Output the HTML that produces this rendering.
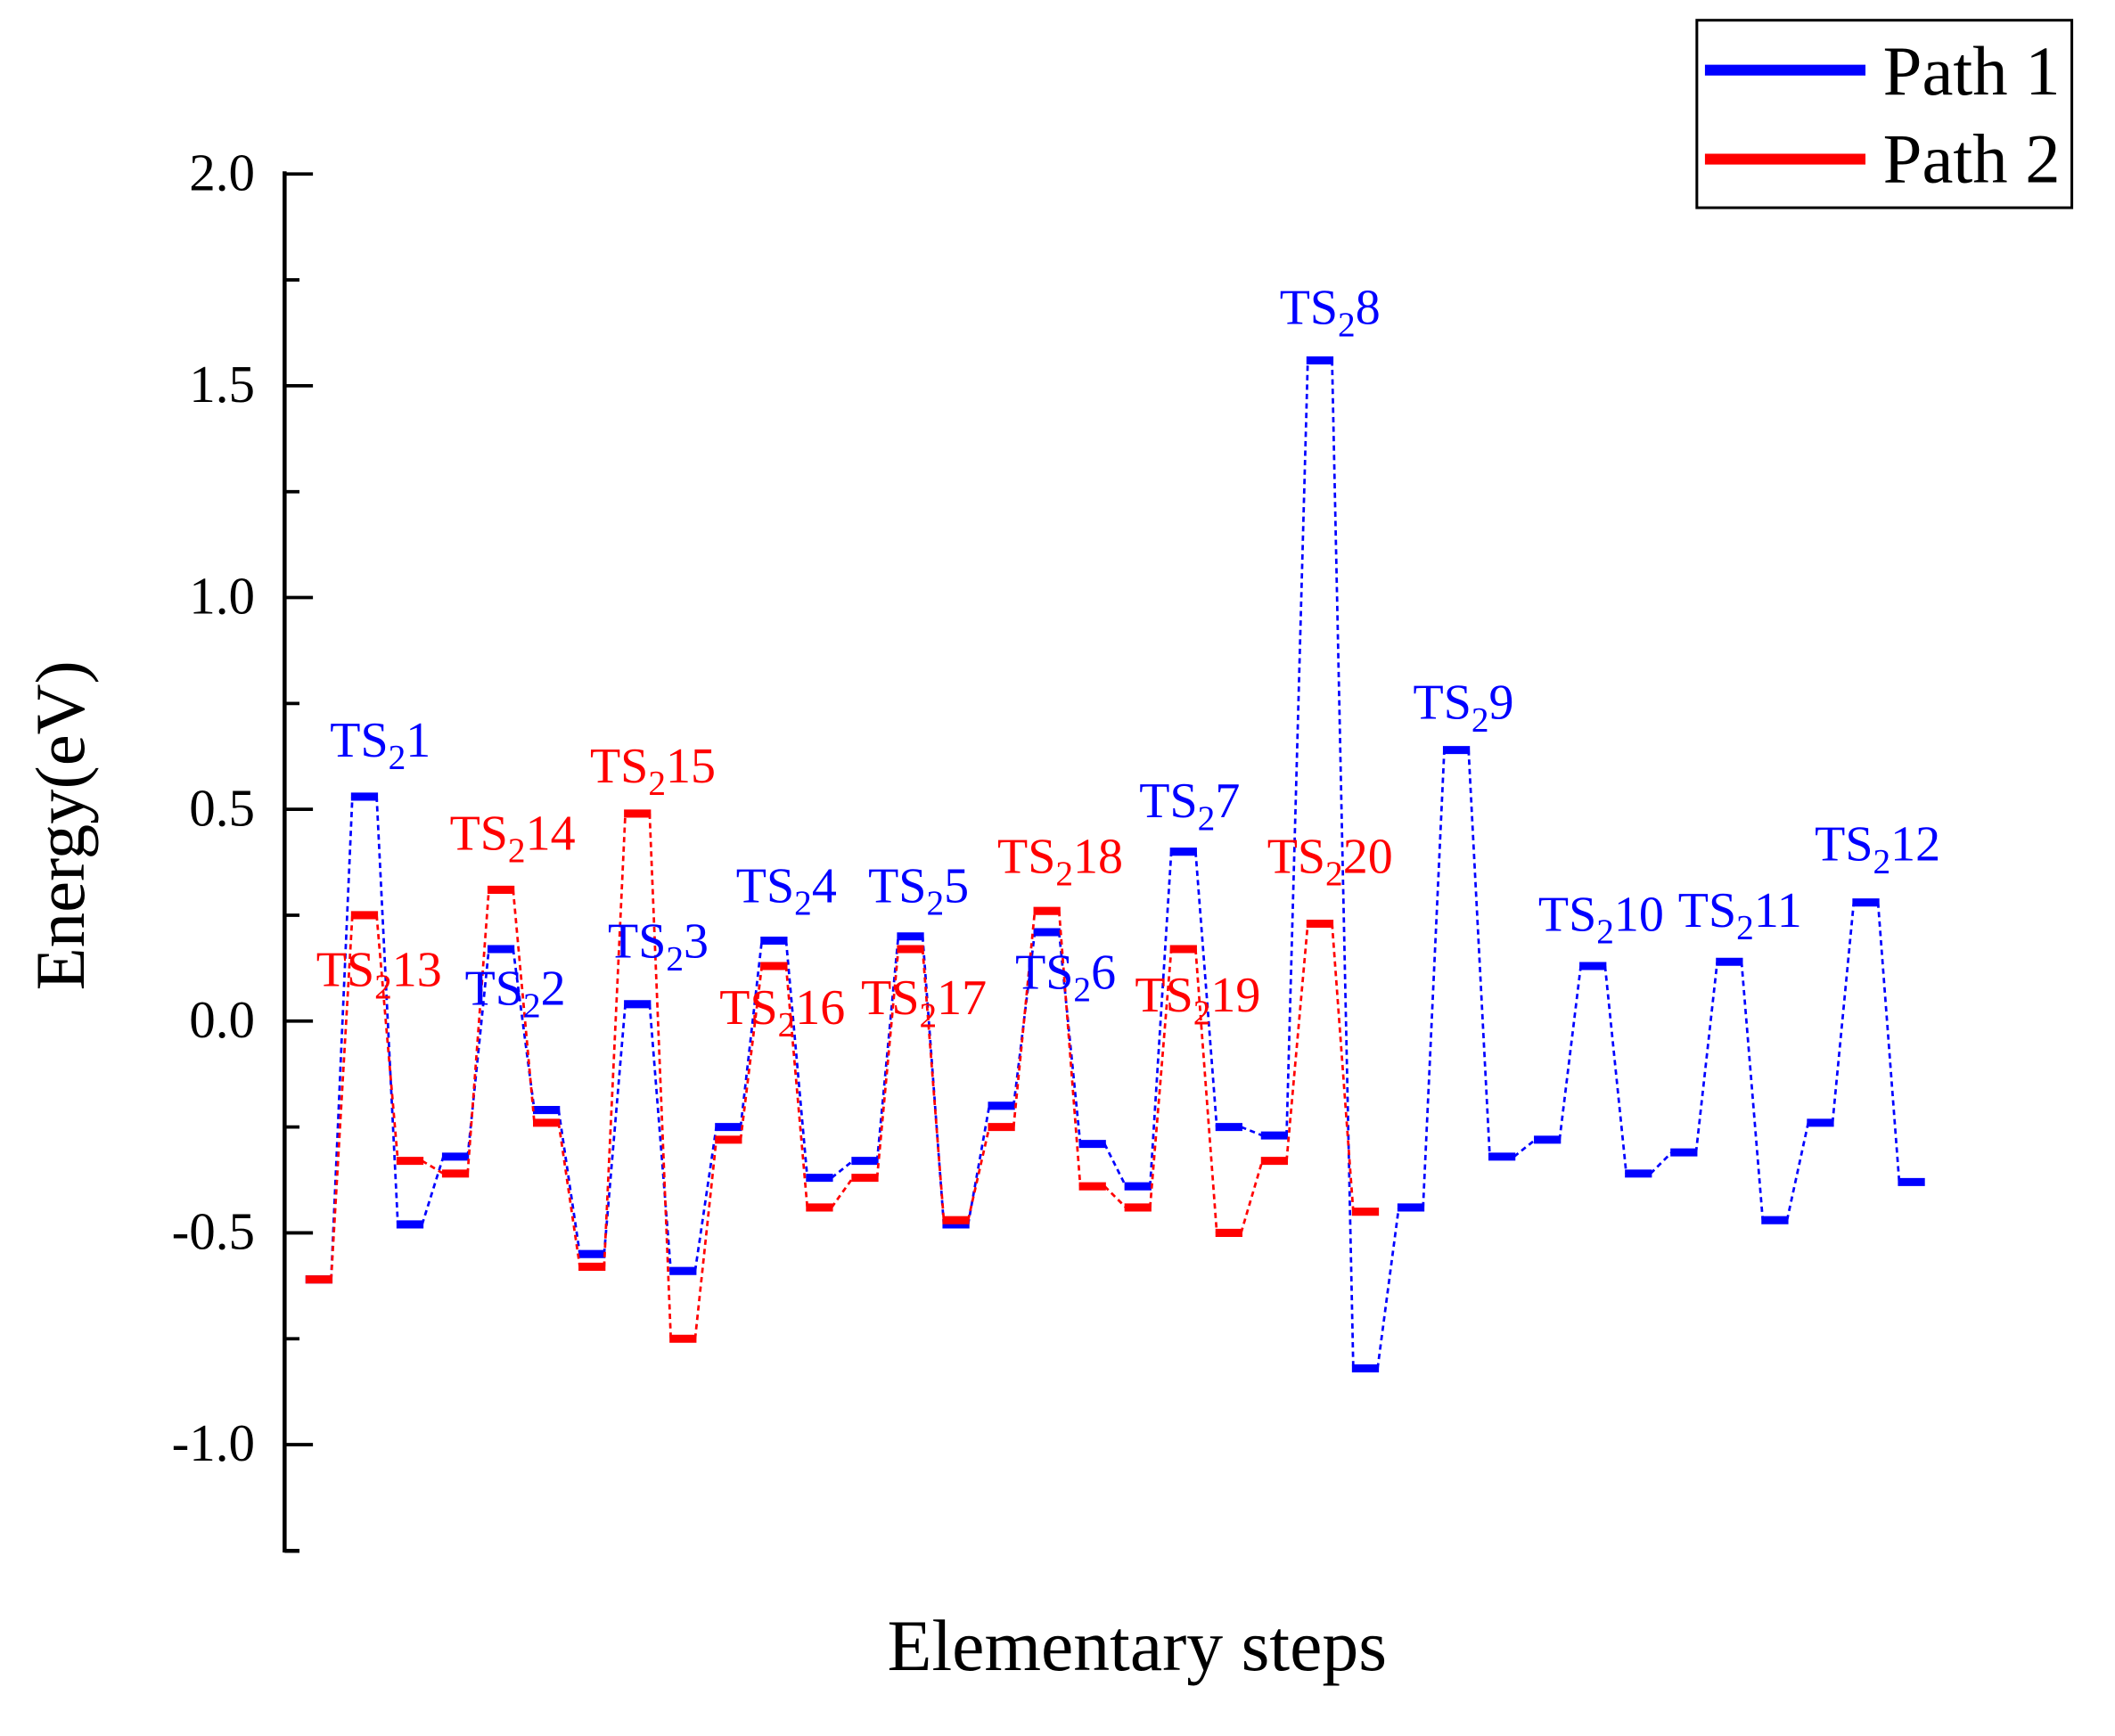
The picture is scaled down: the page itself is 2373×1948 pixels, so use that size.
<!DOCTYPE html>
<html><head><meta charset="utf-8"><style>
html,body{margin:0;padding:0;background:#fff;}
svg{display:block;}
text{font-family:"Liberation Serif",serif;}
</style></head><body>
<svg id="s" width="2373" height="1948" viewBox="0 0 1568 1287" preserveAspectRatio="none" xmlns="http://www.w3.org/2000/svg">
<rect width="1568" height="1287" fill="#fff"/>
<g id="axis"></g>
<g id="data"></g>
<g font-size="39" text-anchor="end" fill="#000">
<text x="189" y="141">2.0</text>
<text x="189" y="298">1.5</text>
<text x="189" y="455">1.0</text>
<text x="189" y="612">0.5</text>
<text x="189" y="769">0.0</text>
<text x="189" y="926">-0.5</text>
<text x="189" y="1083">-1.0</text>
</g>
<text x="0" y="0" font-size="52" text-anchor="middle" transform="translate(62,612) rotate(-90)">Energy(eV)</text>
<text x="843" y="1238" font-size="54" text-anchor="middle">Elementary steps</text>
<g font-size="37" text-anchor="middle">
<text x="282" y="561" fill="#00f">TS<tspan font-size="26" dy="9">2</tspan><tspan dy="-9">1</tspan></text>
<text x="281" y="731" fill="#f00">TS<tspan font-size="26" dy="9">2</tspan><tspan dy="-9">13</tspan></text>
<text x="380" y="630" fill="#f00">TS<tspan font-size="26" dy="9">2</tspan><tspan dy="-9">14</tspan></text>
<text x="382" y="745" fill="#00f">TS<tspan font-size="26" dy="9">2</tspan><tspan dy="-9">2</tspan></text>
<text x="488" y="710" fill="#00f">TS<tspan font-size="26" dy="9">2</tspan><tspan dy="-9">3</tspan></text>
<text x="484" y="580" fill="#f00">TS<tspan font-size="26" dy="9">2</tspan><tspan dy="-9">15</tspan></text>
<text x="583" y="669" fill="#00f">TS<tspan font-size="26" dy="9">2</tspan><tspan dy="-9">4</tspan></text>
<text x="580" y="759" fill="#f00">TS<tspan font-size="26" dy="9">2</tspan><tspan dy="-9">16</tspan></text>
<text x="681" y="669" fill="#00f">TS<tspan font-size="26" dy="9">2</tspan><tspan dy="-9">5</tspan></text>
<text x="685" y="752" fill="#f00">TS<tspan font-size="26" dy="9">2</tspan><tspan dy="-9">17</tspan></text>
<text x="786" y="647" fill="#f00">TS<tspan font-size="26" dy="9">2</tspan><tspan dy="-9">18</tspan></text>
<text x="790" y="733" fill="#00f">TS<tspan font-size="26" dy="9">2</tspan><tspan dy="-9">6</tspan></text>
<text x="882" y="606" fill="#00f">TS<tspan font-size="26" dy="9">2</tspan><tspan dy="-9">7</tspan></text>
<text x="888" y="750" fill="#f00">TS<tspan font-size="26" dy="9">2</tspan><tspan dy="-9">19</tspan></text>
<text x="986" y="240" fill="#00f">TS<tspan font-size="26" dy="9">2</tspan><tspan dy="-9">8</tspan></text>
<text x="986" y="647" fill="#f00">TS<tspan font-size="26" dy="9">2</tspan><tspan dy="-9">20</tspan></text>
<text x="1085" y="533" fill="#00f">TS<tspan font-size="26" dy="9">2</tspan><tspan dy="-9">9</tspan></text>
<text x="1187" y="690" fill="#00f">TS<tspan font-size="26" dy="9">2</tspan><tspan dy="-9">10</tspan></text>
<text x="1290" y="687" fill="#00f">TS<tspan font-size="26" dy="9">2</tspan><tspan dy="-9">11</tspan></text>
<text x="1392" y="638" fill="#00f">TS<tspan font-size="26" dy="9">2</tspan><tspan dy="-9">12</tspan></text>
</g>
<rect x="1258" y="15" width="278" height="139" fill="none" stroke="#000" stroke-width="2"/>
<line x1="1264" y1="52" x2="1383" y2="52" stroke="#00f" stroke-width="8"/>
<line x1="1264" y1="118" x2="1383" y2="118" stroke="#f00" stroke-width="8"/>
<text x="1396" y="70" font-size="52">Path 1</text>
<text x="1396" y="135" font-size="52">Path 2</text>
</svg>
<script>
var NS="http://www.w3.org/2000/svg";
function el(p,t,a){var e=document.createElementNS(NS,t);for(var k in a)e.setAttribute(k,a[k]);p.appendChild(e);return e;}
var ax=document.getElementById("axis");
el(ax,"line",{x1:211,y1:127,x2:211,y2:1151,stroke:"#000","stroke-width":3});
for(var i=0;i<=13;i++){var v=2-i*0.25;var y=757-314*v;var L=(i%2==0)?21:11;
el(ax,"line",{x1:211,y1:y,x2:211+L,y2:y,stroke:"#000","stroke-width":2.5});}
el(ax,"line",{x1:211,y1:1150,x2:222,y2:1150,stroke:"#000","stroke-width":2.5});
var xs=[];for(var i=0;i<36;i++)xs.push(236.5+i*33.73);
var blue=[-0.61,0.53,-0.48,-0.32,0.17,-0.21,-0.55,0.04,-0.59,-0.25,0.19,-0.37,-0.33,0.20,-0.48,-0.20,0.21,-0.29,-0.39,0.40,-0.25,-0.27,1.56,-0.82,-0.44,0.64,-0.32,-0.28,0.13,-0.36,-0.31,0.14,-0.47,-0.24,0.28,-0.38];
var red=[-0.61,0.25,-0.33,-0.36,0.31,-0.24,-0.58,0.49,-0.75,-0.28,0.13,-0.44,-0.37,0.17,-0.47,-0.25,0.26,-0.39,-0.44,0.17,-0.50,-0.33,0.23,-0.45];
var d=document.getElementById("data");
function draw(arr,c){
for(var i=0;i<arr.length-1;i++){
el(d,"line",{x1:xs[i]+9,y1:757-314*arr[i],x2:xs[i+1]-9,y2:757-314*arr[i+1],stroke:c,"stroke-width":1.8,"stroke-dasharray":"4,3"});}
for(var i=0;i<arr.length;i++){var y=757-314*arr[i];
el(d,"line",{x1:xs[i]-10,y1:y,x2:xs[i]+10,y2:y,stroke:c,"stroke-width":6});}
}
draw(blue,"#00f");draw(red,"#f00");
</script>
</body></html>
